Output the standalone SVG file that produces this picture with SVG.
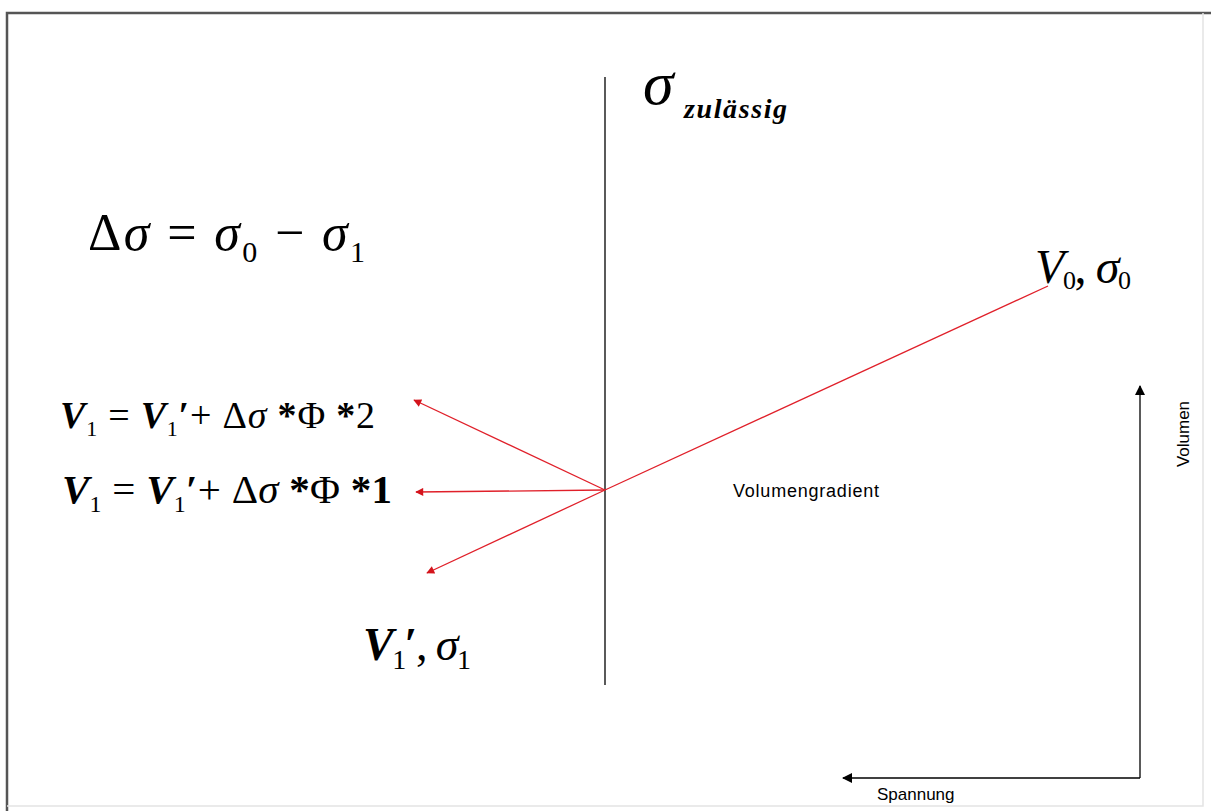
<svg xmlns="http://www.w3.org/2000/svg" width="1211" height="811" viewBox="0 0 1211 811">
<defs>
<style>
.m{font-family:"Liberation Serif","Times New Roman",serif;fill:#000}
.i{font-style:italic}
.s{font-family:"Liberation Sans",Arial,sans-serif;fill:#000}
.red{stroke:#e0202a;stroke-width:1.3;fill:none}
.blk{stroke:#000;stroke-width:1.3;fill:none}
</style>
<marker id="ar" viewBox="0 0 10 10" refX="9" refY="5" markerWidth="10" markerHeight="8" markerUnits="userSpaceOnUse" orient="auto">
<path d="M0,0 L10,5 L0,10 z" fill="#d4141c"/>
</marker>
<marker id="ab" viewBox="0 0 10 10" refX="9" refY="5" markerWidth="12" markerHeight="10" markerUnits="userSpaceOnUse" orient="auto">
<path d="M0,0 L10,5 L0,10 z" fill="#000"/>
</marker>
</defs>
<rect x="0" y="0" width="1211" height="811" fill="#fff"/>
<g id="frame">
<path d="M7,811 L7,13 L1211,13" stroke="#555" stroke-width="2.5" fill="none"/>
<path d="M1203,13 L1203,806 L7,806" stroke="#e4e4e4" stroke-width="1.5" fill="none"/>
</g>
<g id="connectors">
<line class="blk" x1="605" y1="77" x2="605" y2="685"/>
<line class="red" x1="605" y1="490" x2="1048" y2="286"/>
<line class="red" x1="605" y1="490" x2="414" y2="400" marker-end="url(#ar)"/>
<line class="red" x1="605" y1="490" x2="416" y2="492" marker-end="url(#ar)"/>
<line class="red" x1="605" y1="490" x2="427" y2="573" marker-end="url(#ar)"/>
<line class="blk" x1="1140" y1="778" x2="1140" y2="386" marker-end="url(#ab)"/>
<line class="blk" x1="1140" y1="778" x2="843" y2="778" marker-end="url(#ab)"/>
</g>
<g id="sigma-zul">
<text class="m i" x="643" y="104" font-size="62">σ</text>
<text class="m i" x="684" y="118" font-size="28" font-weight="bold" textLength="103">zulässig</text>
</g>
<g id="delta-sigma">
<text class="m" x="88" y="250" font-size="52" textLength="277">Δ<tspan class="i">σ</tspan> = <tspan class="i">σ</tspan><tspan font-size="30" dy="12">0</tspan><tspan dy="-12"> − </tspan><tspan class="i">σ</tspan><tspan font-size="30" dy="12">1</tspan></text>
</g>
<g id="v0-sigma0">
<text class="m" x="1035" y="283" font-size="48" textLength="96"><tspan class="i">V</tspan><tspan font-size="26" dy="6">0</tspan><tspan dy="-6">, </tspan><tspan class="i">σ</tspan><tspan font-size="26" dy="6">0</tspan></text>
</g>
<g id="eq2">
<text class="m" x="60" y="428" font-size="38" textLength="315"><tspan class="i" font-weight="bold">V</tspan><tspan font-size="22" dy="8">1</tspan><tspan dy="-8"> = </tspan><tspan class="i" font-weight="bold">V</tspan><tspan font-size="22" dy="8">1</tspan><tspan dy="-8" font-weight="bold">′</tspan>+ Δ<tspan class="i">σ</tspan> <tspan font-weight="bold">*</tspan>Φ <tspan font-weight="bold">*</tspan>2</text>
</g>
<g id="eq1">
<text class="m" x="62" y="503" font-size="41" textLength="330"><tspan class="i" font-weight="bold">V</tspan><tspan font-size="24" dy="9">1</tspan><tspan dy="-9"> = </tspan><tspan class="i" font-weight="bold">V</tspan><tspan font-size="24" dy="9">1</tspan><tspan dy="-9" font-weight="bold">′</tspan>+ Δ<tspan class="i">σ</tspan> <tspan font-weight="bold">*</tspan>Φ <tspan font-weight="bold">*</tspan><tspan font-weight="bold">1</tspan></text>
</g>
<g id="v1-sigma1">
<text class="m" x="363" y="660" font-size="46" textLength="108"><tspan class="i" font-weight="bold">V</tspan><tspan font-size="28" dy="9">1</tspan><tspan dy="-9" font-weight="bold">′</tspan>, <tspan class="i">σ</tspan><tspan font-size="28" dy="9">1</tspan></text>
</g>
<g id="volumengradient">
<text class="s" x="733" y="497" font-size="18" textLength="146">Volumengradient</text>
</g>
<g id="volumen">
<text class="s" x="0" y="0" font-size="17" transform="translate(1189,434) rotate(-90)" text-anchor="middle">Volumen</text>
</g>
<g id="spannung">
<text class="s" x="877" y="800" font-size="17">Spannung</text>
</g>
</svg>
